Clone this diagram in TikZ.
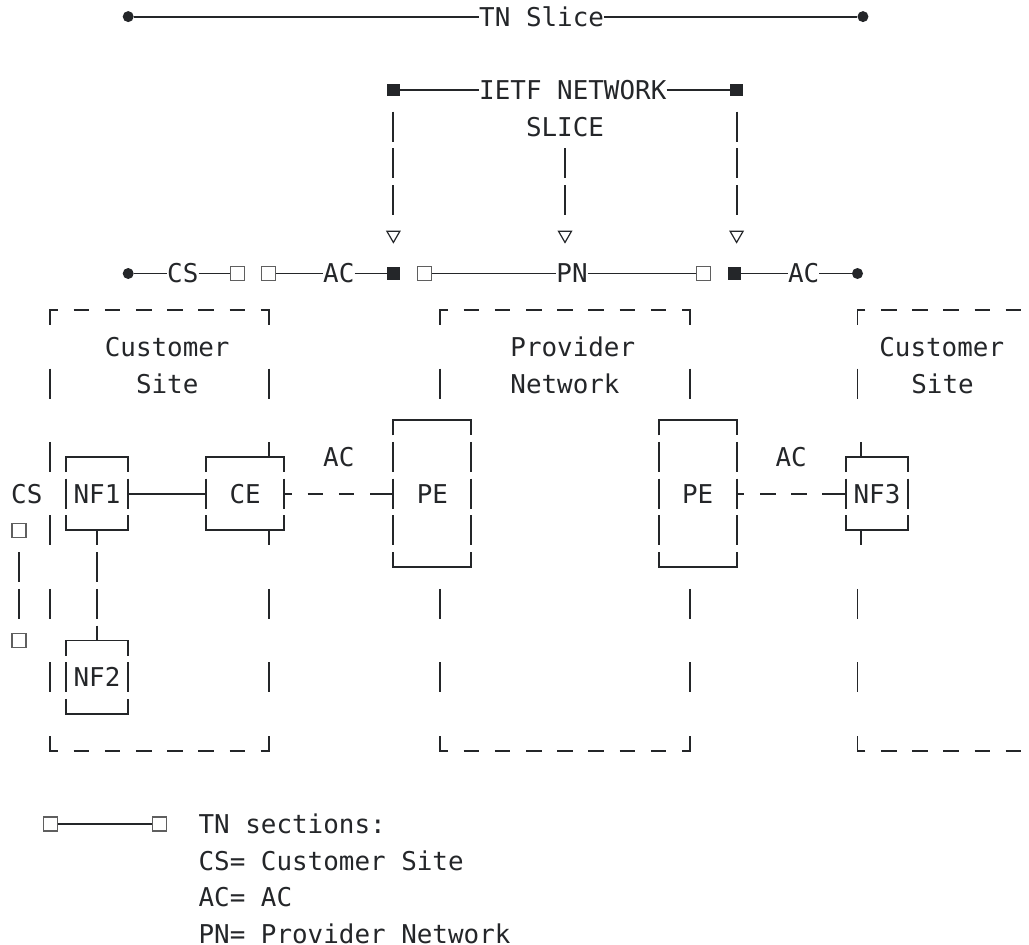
\documentclass[tikz,border=0pt]{standalone}
\usepackage{fontspec}
\setmonofont{DejaVu Sans Mono}
\usetikzlibrary{shapes.geometric}
\definecolor{ink}{RGB}{36,38,41}
\definecolor{hollow}{RGB}{95,95,95}
% half height of a vertical bar glyph, in rows
\newcommand\halfbar{0.409}
% solid glyph box: left col, right col, top row, bottom row
\newcommand\glyphbox[4]{%
  \draw[ln] (#1,#3+\halfbar) -- (#1,#3) -- (#2,#3) -- (#2,#3+\halfbar);
  \draw[ln] (#1,#4-\halfbar) -- (#1,#4) -- (#2,#4) -- (#2,#4-\halfbar);
  \pgfmathtruncatemacro\gbA{#3+1}%
  \pgfmathtruncatemacro\gbB{#4-1}%
  \foreach \gbr in {\gbA,...,\gbB}{%
    \draw[ln] (#1,\gbr-\halfbar) -- (#1,\gbr+\halfbar);
    \draw[ln] (#2,\gbr-\halfbar) -- (#2,\gbr+\halfbar);}%
}
% dashed area frame: left col, right col, top row, bottom row (left corners only)
\newcommand\dashframe[4]{%
  \draw[ln,dashrule] (#1,#3) -- (#2,#3);
  \draw[ln,dashrule] (#1,#4) -- (#2,#4);
  \draw[ln] (#1+0.5,#3) -- (#1,#3) -- (#1,#3+\halfbar);
  \draw[ln] (#1+0.5,#4) -- (#1,#4) -- (#1,#4-\halfbar);
}
\newcommand\rightcorners[3]{% col, top row, bottom row
  \draw[ln] (#1-0.5,#2) -- (#1,#2) -- (#1,#2+\halfbar);
  \draw[ln] (#1-0.5,#3) -- (#1,#3) -- (#1,#3-\halfbar);
}
\newcommand\vbar[2]{\draw[ln] (#1,#2-\halfbar) -- (#1,#2+\halfbar);}

\begin{document}
\begin{tikzpicture}[x=15.6pt,y=-36.7pt,
  ln/.style={draw=ink,line width=1.9pt},
  dashrule/.style={dash pattern=on 15.6pt off 15.6pt,dash phase=7.8pt},
  acdash/.style={dash pattern=on 7.8pt off 15.6pt on 15.6pt off 15.6pt on 15.6pt off 15.6pt on 23.4pt off 10pt},
  busbar/.style={dash pattern=on 15pt off 6.7pt on 30pt off 6.7pt on 30pt off 6.7pt on 15pt off 10pt},
  bars2/.style={dash pattern=on 0pt off 21.7pt on 30pt off 6.7pt on 30pt off 60pt},
  bars3/.style={dash pattern=on 0pt off 21.7pt on 30pt off 6.7pt on 30pt off 6.7pt on 30pt off 60pt},
  txt/.style={font=\ttfamily\fontsize{25.9pt}{30pt}\selectfont,text=ink,inner sep=0pt,
    text height=22.9pt,text depth=4pt},
  dot/.style={circle,fill=ink,minimum size=11pt,inner sep=0pt},
  blk/.style={rectangle,fill=ink,minimum size=12.5pt,inner sep=0pt},
  hol/.style={rectangle,draw=hollow,fill=white,line width=1.1pt,minimum size=14pt,inner sep=0pt},
  tri/.style={regular polygon,regular polygon sides=3,shape border rotate=180,
    draw=ink,line width=1.2pt,minimum size=15pt,inner sep=0pt}]
\useasboundingbox (-1.2179,-0.4523) rectangle (64.744,25.297);

% ---- TN slice span
\node[dot] (tnL) at (7,0) {};
\node[txt] (tn) at (33.5,0) {TN Slice};
\node[dot] (tnR) at (54.1,0) {};
\draw[ln] (tnL) -- (tn) -- (tnR);

% ---- IETF network slice span and its drop lines
\node[blk] (ietfL) at (24,2) {};
\node[txt] (ietf) at (35.5,2) {IETF NETWORK};
\node[blk] (ietfR) at (46,2) {};
\draw[ln] (ietfL) -- (ietf) -- (ietfR);
\node[txt] (slice) at (35,3) {SLICE};
\node[tri] (t1) at (24,5.95) {};
\node[tri] (t2) at (35,5.95) {};
\node[tri] (t3) at (46,5.95) {};
\draw[ln,bars3] (ietfL.center) -- (24,6);
\draw[ln,bars3] (ietfR.center) -- (46,6);
\draw[ln,bars2] (35,3) -- (35,6);

% ---- TN sections row
\node[dot] (d1) at (7,7) {};
\node[txt] (cs) at (10.5,7) {CS};
\node[hol] (h1) at (14,7) {};
\node[hol] (h2) at (16,7) {};
\node[txt] (ac1) at (20.5,7) {AC};
\node[blk] (b1) at (24,7) {};
\node[hol] (h3) at (26,7) {};
\node[txt] (pn) at (35.45,7) {PN};
\node[hol] (h4) at (43.85,7) {};
\node[blk] (b2) at (45.85,7) {};
\node[txt] (ac2) at (50.3,7) {AC};
\node[dot] (d2) at (53.75,7) {};
\draw[ln] (d1) -- (cs) -- (h1);
\draw[ln] (h2) -- (ac1) -- (b1);
\draw[ln] (h3) -- (pn) -- (h4);
\draw[ln] (b2) -- (ac2) -- (d2);

% ---- dashed areas
\dashframe{2}{16}{8}{20}
\rightcorners{16}{8}{20}
\dashframe{27}{43}{8}{20}
\rightcorners{43}{8}{20}
\dashframe{53.75}{64.5}{8}{20}
\foreach \r in {10,12,14,16,18} {\vbar{2}{\r}}
\foreach \r in {10,16,18} {\vbar{16}{\r} \vbar{27}{\r} \vbar{43}{\r} \vbar{53.75}{\r}}

\node[txt] (cust1) at (9.5,9) {Customer};
\node[txt] (site1) at (9.5,10) {Site};
\node[txt] (prov) at (35.5,9) {Provider};
\node[txt] (netw) at (35,10) {Network};
\node[txt] (cust2) at (59.15,9) {Customer};
\node[txt] (site2) at (59.2,10) {Site};

% ---- network functions and edge devices
\glyphbox{3}{7}{12}{14}
\node[txt] (nf1) at (5,13) {NF1};
\glyphbox{12}{17}{12}{14}
\node[txt] (ce) at (14.5,13) {CE};
\draw[ln] (16,12) -- (16,12-\halfbar);
\draw[ln] (16,14) -- (16,14+\halfbar);
\glyphbox{24}{29}{11}{15}
\node[txt] (pe1) at (26.5,13) {PE};
\glyphbox{41}{46}{11}{15}
\node[txt] (pe2) at (43.5,13) {PE};
\glyphbox{53}{57}{12}{14}
\node[txt] (nf3) at (55,13) {NF3};
\draw[ln] (54,12) -- (54,12-\halfbar);
\draw[ln] (54,14) -- (54,14+\halfbar);
\glyphbox{3}{7}{17}{19}
\node[txt] (nf2) at (5,18) {NF2};

\coordinate (nf1E) at (7,13);
\coordinate (ceW) at (12,13);
\coordinate (ceE) at (17,13);
\coordinate (pe1W) at (24,13);
\coordinate (pe2E) at (46,13);
\coordinate (nf3W) at (53,13);
\coordinate (nf1S) at (5,14);
\coordinate (nf2N) at (5,17);
\draw[ln] (nf1E) -- (ceW);
\draw[ln,acdash] (ceE) -- (pe1W);
\draw[ln,acdash] (pe2E) -- (nf3W);
\draw[ln,busbar] (nf1S) -- (nf2N);
\node[txt] (acl) at (20.5,12) {AC};
\node[txt] (acr) at (49.5,12) {AC};

% ---- customer site section marker
\node[txt] (csl) at (0.5,13) {CS};
\node[hol] (cq1) at (0,14) {};
\node[hol] (cq2) at (0,17) {};
\draw[ln,bars2] (cq1.center) -- (cq2.center);

% ---- legend
\node[hol] (lg1) at (2,22) {};
\node[hol] (lg2) at (9,22) {};
\draw[ln] (lg1) -- (lg2);
\node[txt,anchor=west] (lgt) at (11.5,22) {TN sections:};
\node[txt,anchor=west] (lgcs) at (11.5,23) {CS= Customer Site};
\node[txt,anchor=west] (lgac) at (11.5,24) {AC= AC};
\node[txt,anchor=west] (lgpn) at (11.5,25) {PN= Provider Network};
\end{tikzpicture}
\end{document}
